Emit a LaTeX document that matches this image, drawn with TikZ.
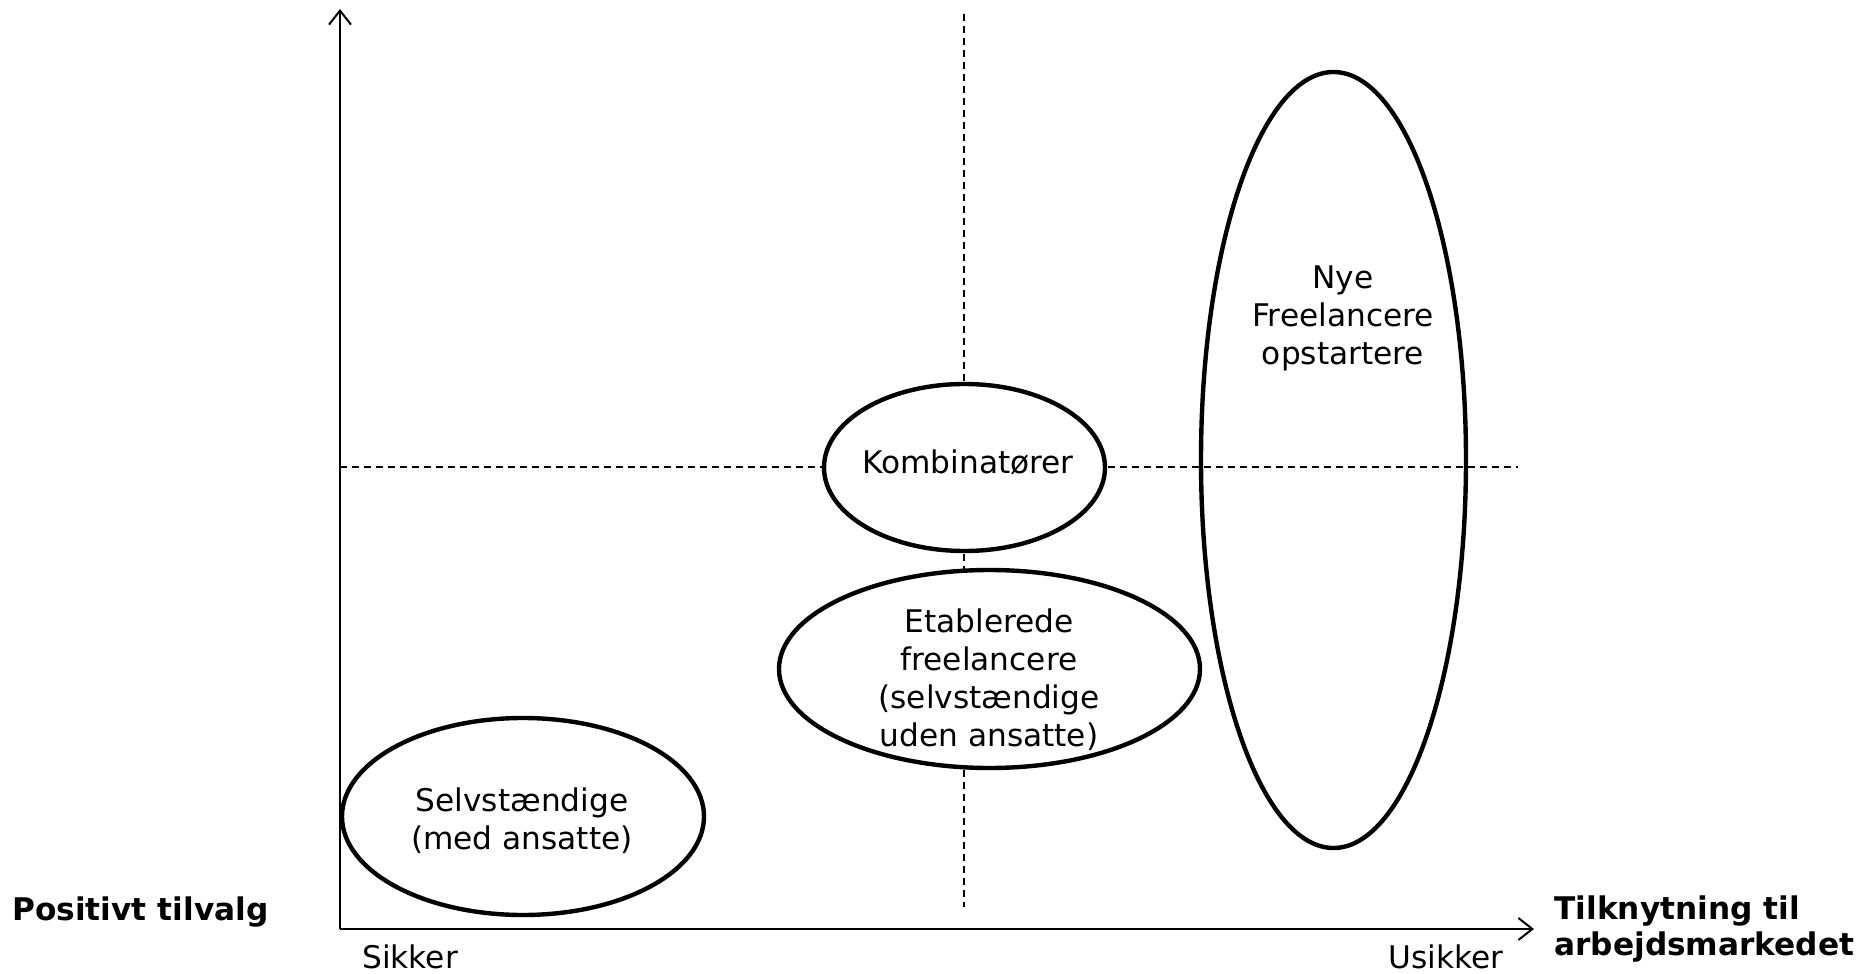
\documentclass[tikz,border=0pt]{standalone}
\usepackage{fontspec}
\setmainfont{DejaVu Sans}
\usetikzlibrary{shapes.geometric,arrows.meta}
\begin{document}
\begin{tikzpicture}[x=0.5pt,y=-0.5pt,
  txt/.style={font=\fontsize{15.6}{19}\selectfont, align=center, inner sep=0pt},
  boldtxt/.style={font=\fontsize{15.6}{18}\selectfont\bfseries, align=left, inner sep=0pt},
  oval/.style={ellipse, draw, line width=2.2pt, inner sep=0pt, outer sep=0pt},
  guide/.style={line width=0.7pt, dash pattern=on 3.5pt off 2.5pt},
  axis/.style={line width=1pt, -{Straight Barb[length=7pt,width=11pt,line width=1pt]}}
]
\useasboundingbox (0,0) rectangle (1860,974);
\coordinate (o) at (340,929);
\coordinate (ytip) at (340,9);
\coordinate (xtip) at (1534,929);
\coordinate (vtop) at (964,14);
\coordinate (vbot) at (964,907);
\coordinate (hl) at (340,467);
\coordinate (hr) at (1518,467);
\draw[guide] (vtop) -- (vbot);
\draw[guide] (hl) -- (hr);
\draw[axis] (o) -- (ytip);
\draw[axis] (o) -- (xtip);
\node[oval, fill=white, minimum width=140.5pt, minimum height=83.5pt] (k) at (964.5,467.5) {};
\node[oval, fill=white, minimum width=210.5pt, minimum height=99pt] (e) at (989.5,669) {};
\node[oval, fill=white, minimum width=181pt, minimum height=98.5pt] (s) at (523,816.5) {};
\node[oval, minimum width=132.5pt, minimum height=388pt] (n) at (1333.5,460) {};
\node[txt] (kt) at (968,462) {Kombinatører};
\node[txt] (et) at (989,679.5) {Etablerede\\freelancere\\(selvstændige\\uden ansatte)};
\node[txt] (st) at (522,820.5) {Selvstændige\\(med ansatte)};
\node[txt] (nt) at (1343,318.5) {Nye\\Freelancere\\opstartere};
\node[txt, anchor=base west] (sik) at (362,968) {Sikker};
\node[txt, anchor=base east] (usik) at (1504,968) {Usikker};
\node[boldtxt, anchor=base west] (pos) at (12,920) {Positivt tilvalg};
\node[boldtxt, anchor=west] (tilk) at (1554,929) {Tilknytning til\\arbejdsmarkedet};
\end{tikzpicture}
\end{document}
